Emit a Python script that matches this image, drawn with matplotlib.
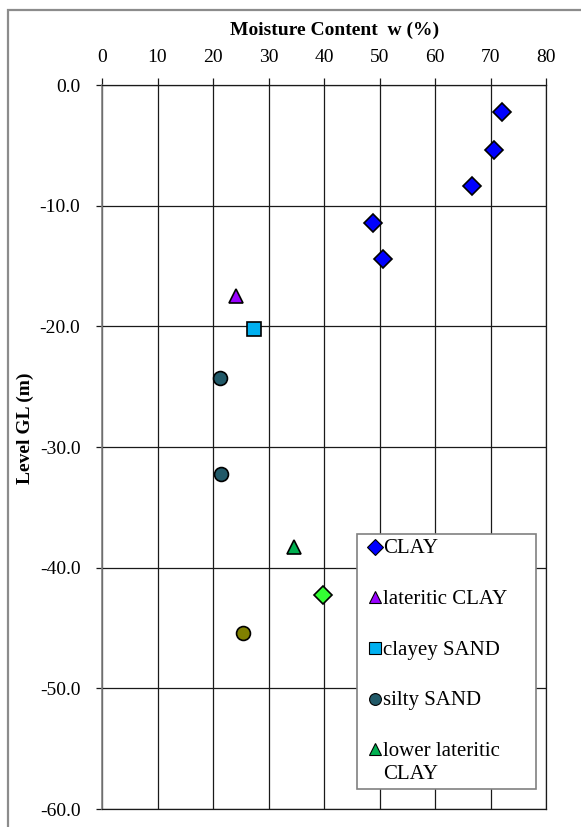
import matplotlib
matplotlib.use("Agg")
import matplotlib.pyplot as plt
from matplotlib.patches import Rectangle
from matplotlib.lines import Line2D

# Moisture content (%) against level below ground (m)
clay_w = [72.0, 70.7, 66.7, 48.9, 50.7]
clay_z = [-2.2, -5.4, -8.4, -11.4, -14.4]

lat_clay_w = [24.2]
lat_clay_z = [-17.5]

clayey_sand_w = [27.3]
clayey_sand_z = [-20.2]

silty_sand_w = [21.3, 21.4]
silty_sand_z = [-24.3, -32.2]

lower_lat_clay_w = [34.6]
lower_lat_clay_z = [-38.3]

deep_a_w = [39.8]
deep_a_z = [-42.3]

deep_b_w = [25.4]
deep_b_z = [-45.4]

x_ticks = [0, 10, 20, 30, 40, 50, 60, 70, 80]
y_ticks = [0, -10, -20, -30, -40, -50, -60]

plt.rcParams["font.family"] = ["Liberation Serif", "DejaVu Serif"]

W, H = 581, 827
fig = plt.figure(figsize=(W / 100, H / 100), dpi=100)

# chart-area border
fig.patches.append(Rectangle((8 / W, -0.05), 1.2, (H - 10) / H + 0.05,
                             transform=fig.transFigure, fill=False,
                             edgecolor="#8c8c8c", linewidth=1.6))

ax = fig.add_axes([102 / W, 1 - 809 / H, 444 / W, 724 / H])
ax.set_xlim(0, 80)
ax.set_ylim(-60, 0)

ax.grid(True, color="#1a1a1a", linewidth=0.9)
ax.set_axisbelow(True)

series = [
    (clay_w, clay_z, "D", "#0000ff", 9, "CLAY"),
    (lat_clay_w, lat_clay_z, "^", "#9900ff", 10, "lateritic CLAY"),
    (clayey_sand_w, clayey_sand_z, "s", "#00b0f0", 9.5, "clayey SAND"),
    (silty_sand_w, silty_sand_z, "o", "#215968", 10, "silty SAND"),
    (lower_lat_clay_w, lower_lat_clay_z, "^", "#00b050", 10, "lower lateritic\nCLAY"),
    (deep_a_w, deep_a_z, "D", "#33ff33", 9, None),
    (deep_b_w, deep_b_z, "o", "#808000", 10, None),
]

handles = []
for w, z, m, c, ms, lab in series:
    ax.plot(w, z, linestyle="none", marker=m, markersize=ms,
            markerfacecolor=c, markeredgecolor="black", markeredgewidth=1.2,
            zorder=3, clip_on=False)
    if lab is not None:
        handles.append(Line2D([], [], linestyle="none", marker=m,
                              markersize=ms * 0.85, markerfacecolor=c,
                              markeredgecolor="black", markeredgewidth=0.8,
                              label=lab))

ax.xaxis.tick_top()
ax.set_xticks(x_ticks)
ax.set_xticklabels([str(v) for v in x_ticks])
ax.set_yticks(y_ticks)
ax.set_yticklabels([f"{v:.1f}" if v == 0 else f"-{abs(v):.1f}" for v in y_ticks])
ax.tick_params(axis="x", which="both", top=True, bottom=False, direction="out",
               length=5, width=0.9, color="#1a1a1a", pad=9, labelsize=14)
ax.tick_params(axis="y", direction="out", length=4.5, width=0.9,
               color="#1a1a1a", pad=11, labelsize=14)

for side in ["top", "right", "bottom"]:
    ax.spines[side].set_color("#1a1a1a")
    ax.spines[side].set_linewidth(0.9)
ax.spines["left"].set_color("#808080")
ax.spines["left"].set_linewidth(1.2)

fig.text(335 / W, 1 - 30 / H, "Moisture Content  w (%)", ha="center",
         va="center", fontsize=14, fontweight="bold")
fig.text(25 / W, 1 - 428 / H, "Level GL (m)", ha="center", va="center",
         rotation=90, fontsize=14, fontweight="bold")

leg = ax.legend(handles=handles, loc="upper left",
                bbox_to_anchor=(357 / W, 1 - 788 / H, 179 / W, 254 / H),
                bbox_transform=fig.transFigure, mode="expand",
                borderaxespad=0, frameon=True, fancybox=False,
                framealpha=1, edgecolor="#808080", fontsize=15,
                handlelength=1.2, handletextpad=-0.2, borderpad=0.25,
                labelspacing=1.52)
leg.get_frame().set_linewidth(1.2)
leg.set_zorder(5)
for t in leg.get_texts():
    t.set_linespacing(1.3)

# keep each marker level with the first line of its label
for column in leg._legend_handle_box.get_children():
    for row in column.get_children():
        row.align = "top"

fig.savefig("out.png", dpi=100)
